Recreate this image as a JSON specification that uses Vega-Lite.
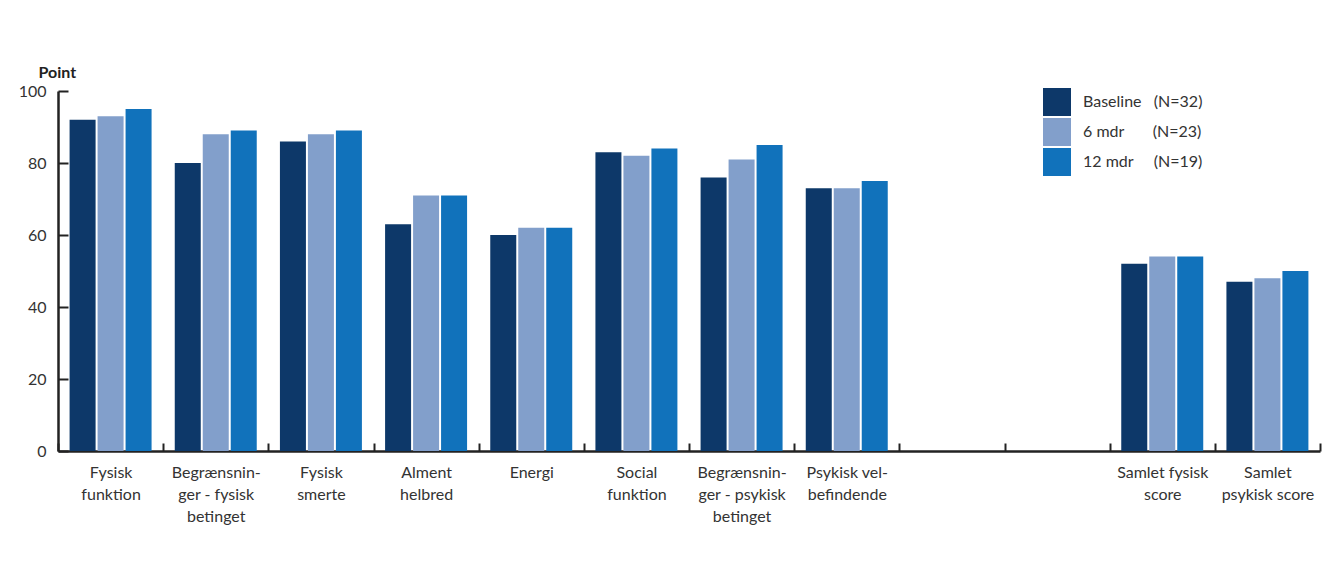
{
  "$schema": "https://vega.github.io/schema/vega-lite/v6.json",
  "autosize": {"type": "none"},
  "width": 1262,
  "height": 360,
  "padding": {"left": 58, "top": 91, "right": 10, "bottom": 117},
  "background": "white",
  "config": {
    "font": "Lato",
    "view": {"stroke": null},
    "axis": {"labelFont": "Lato", "labelFontSize": 16, "labelColor": "#333333", "titleFont": "Lato"}
  },
  "data": {
    "values": [
      {"kategori": "Fysisk|funktion", "tid": "Baseline", "point": 92},
      {"kategori": "Fysisk|funktion", "tid": "6 mdr", "point": 93},
      {"kategori": "Fysisk|funktion", "tid": "12 mdr", "point": 95},
      {"kategori": "Begrænsnin-|ger - fysisk|betinget", "tid": "Baseline", "point": 80},
      {"kategori": "Begrænsnin-|ger - fysisk|betinget", "tid": "6 mdr", "point": 88},
      {"kategori": "Begrænsnin-|ger - fysisk|betinget", "tid": "12 mdr", "point": 89},
      {"kategori": "Fysisk|smerte", "tid": "Baseline", "point": 86},
      {"kategori": "Fysisk|smerte", "tid": "6 mdr", "point": 88},
      {"kategori": "Fysisk|smerte", "tid": "12 mdr", "point": 89},
      {"kategori": "Alment|helbred", "tid": "Baseline", "point": 63},
      {"kategori": "Alment|helbred", "tid": "6 mdr", "point": 71},
      {"kategori": "Alment|helbred", "tid": "12 mdr", "point": 71},
      {"kategori": "Energi", "tid": "Baseline", "point": 60},
      {"kategori": "Energi", "tid": "6 mdr", "point": 62},
      {"kategori": "Energi", "tid": "12 mdr", "point": 62},
      {"kategori": "Social|funktion", "tid": "Baseline", "point": 83},
      {"kategori": "Social|funktion", "tid": "6 mdr", "point": 82},
      {"kategori": "Social|funktion", "tid": "12 mdr", "point": 84},
      {"kategori": "Begrænsnin-|ger - psykisk|betinget", "tid": "Baseline", "point": 76},
      {"kategori": "Begrænsnin-|ger - psykisk|betinget", "tid": "6 mdr", "point": 81},
      {"kategori": "Begrænsnin-|ger - psykisk|betinget", "tid": "12 mdr", "point": 85},
      {"kategori": "Psykisk vel-|befindende", "tid": "Baseline", "point": 73},
      {"kategori": "Psykisk vel-|befindende", "tid": "6 mdr", "point": 73},
      {"kategori": "Psykisk vel-|befindende", "tid": "12 mdr", "point": 75},
      {"kategori": "Samlet fysisk|score", "tid": "Baseline", "point": 52},
      {"kategori": "Samlet fysisk|score", "tid": "6 mdr", "point": 54},
      {"kategori": "Samlet fysisk|score", "tid": "12 mdr", "point": 54},
      {"kategori": "Samlet|psykisk score", "tid": "Baseline", "point": 47},
      {"kategori": "Samlet|psykisk score", "tid": "6 mdr", "point": 48},
      {"kategori": "Samlet|psykisk score", "tid": "12 mdr", "point": 50}
    ]
  },
  "mark": {"type": "bar"},
  "encoding": {
    "x": {
      "field": "kategori",
      "type": "nominal",
      "scale": {
        "domain": ["Fysisk|funktion", "Begrænsnin-|ger - fysisk|betinget", "Fysisk|smerte", "Alment|helbred", "Energi", "Social|funktion", "Begrænsnin-|ger - psykisk|betinget", "Psykisk vel-|befindende", "blank1", "blank2", "Samlet fysisk|score", "Samlet|psykisk score"],
        "paddingInner": 0,
        "paddingOuter": 0
      },
      "axis": {
        "title": null,
        "labelAngle": 0,
        "labelExpr": "indexof(datum.label,'blank')==0 ? '' : split(datum.label,'|')",
        "labelBaseline": "top",
        "labelLineHeight": 22,
        "labelPadding": 21,
        "tickBand": "extent",
        "tickSize": -8,
        "tickWidth": 2,
        "tickColor": "#222222",
        "domainColor": "#222222",
        "domainWidth": 2.5
      }
    },
    "xOffset": {
      "field": "tid",
      "type": "nominal",
      "sort": ["Baseline", "6 mdr", "12 mdr"],
      "scale": {"paddingInner": 0.071, "paddingOuter": 0.414}
    },
    "y": {
      "field": "point",
      "type": "quantitative",
      "scale": {"domain": [0, 100]},
      "axis": {
        "title": "Point",
        "titleAngle": 0,
        "titleAlign": "left",
        "titleBaseline": "alphabetic",
        "titleX": -20,
        "titleY": -14,
        "titleFontSize": 16,
        "titleFontWeight": "bold",
        "titleColor": "#222222",
        "values": [0, 20, 40, 60, 80, 100],
        "grid": false,
        "tickSize": -10,
        "tickWidth": 2,
        "tickColor": "#222222",
        "domainColor": "#222222",
        "domainWidth": 2.5,
        "labelPadding": 22
      }
    },
    "color": {
      "field": "tid",
      "type": "nominal",
      "scale": {"domain": ["Baseline", "6 mdr", "12 mdr"], "range": ["#0d3869", "#829fcb", "#1172bb"]},
      "legend": {
        "title": null,
        "orient": "none",
        "legendX": 985,
        "legendY": -3,
        "symbolType": "square",
        "symbolSize": 784,
        "symbolStrokeWidth": 0,
        "symbolOpacity": 1,
        "rowPadding": 2,
        "labelFontSize": 16,
        "labelFont": "Lato",
        "labelColor": "#333333",
        "labelOffset": 12,
        "labelExpr": "datum.label == 'Baseline' ? 'Baseline\u00a0\u00a0\u00a0(N=32)' : datum.label == '6 mdr' ? '6 mdr\u00a0\u00a0\u00a0\u00a0\u00a0\u00a0\u00a0(N=23)' : '12 mdr\u00a0\u00a0\u00a0\u00a0\u00a0(N=19)'"
      }
    }
  }
}
